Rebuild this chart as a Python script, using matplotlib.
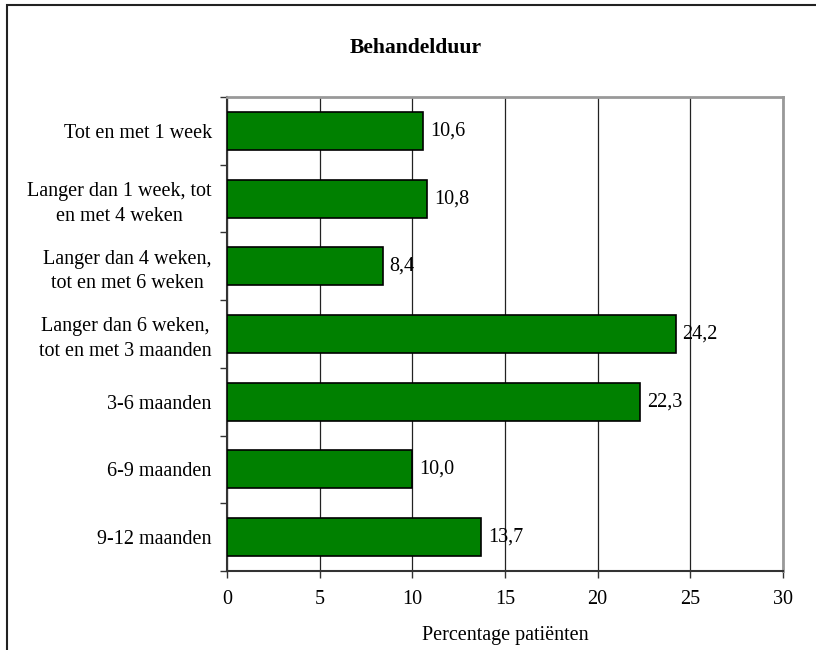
import matplotlib
matplotlib.use('Agg')
import matplotlib.pyplot as plt
from matplotlib.patches import Rectangle

# Behandelduur - percentage patiënten per categorie
categories = [
    'Tot en met 1 week',
    'Langer dan 1 week, tot\nen met 4 weken',
    'Langer dan 4 weken,\ntot en met 6 weken',
    'Langer dan 6 weken,\ntot en met 3 maanden',
    '3-6 maanden',
    '6-9 maanden',
    '9-12 maanden',
]
percentages = [10.6, 10.8, 8.4, 24.2, 22.3, 10.0, 13.7]
x_ticks = [0, 5, 10, 15, 20, 25, 30]

plt.rcParams['font.family'] = ['Liberation Serif', 'DejaVu Serif']
FS = 14.5

W, H = 816, 650
fig = plt.figure(figsize=(W / 100, H / 100), dpi=100)

# kader rond de grafiek
fig.patches.append(Rectangle((7 / W, -0.1), 1.2, 1 - 5 / H + 0.1,
                             transform=fig.transFigure, fill=False,
                             edgecolor='#222222', linewidth=1.5))

ax = fig.add_axes([227 / W, (H - 571) / H, (783 - 227) / W, (571 - 97) / H])

n = len(categories)
pos = list(range(n))
ax.barh(pos, percentages, height=0.56, color='#008000',
        edgecolor='black', linewidth=1.2, zorder=3)

for y, v in zip(pos, percentages):
    ax.annotate(f'{v:.1f}'.replace('.', ','), xy=(v, y), xytext=(5, 0),
                textcoords='offset points', ha='left', va='center',
                fontsize=FS, zorder=4)

ax.set_xlim(0, 30)
ax.set_ylim(n - 0.5, -0.5)
ax.set_xticks(x_ticks)
ax.set_xticklabels([str(t) for t in x_ticks], fontsize=FS)
ax.tick_params(axis='x', direction='out', length=5, width=1, pad=9,
               color='#333333')
ax.xaxis.grid(True, color='#222222', linewidth=0.9, zorder=1)
ax.set_axisbelow(True)

# categorielabels tussen de scheidingsstreepjes
ax.set_yticks([p - 0.5 for p in pos] + [n - 0.5])
ax.set_yticklabels([])
ax.set_yticks(pos, minor=True)
ax.set_yticklabels(categories, minor=True, fontsize=FS,
                   multialignment='center', linespacing=1.4)
ax.tick_params(axis='y', which='major', direction='out', length=5,
               width=1, color='#333333')
ax.tick_params(axis='y', which='minor', length=0, pad=11)

for side in ('top', 'right'):
    ax.spines[side].set_color('#999999')
    ax.spines[side].set_linewidth(2)
for side in ('left', 'bottom'):
    ax.spines[side].set_color('#333333')
    ax.spines[side].set_linewidth(1.5)

ax.set_xlabel('Percentage patiënten', fontsize=FS, labelpad=12)
fig.text(416 / W, 1 - 48 / H, 'Behandelduur', ha='center', va='center',
         fontsize=15.6, fontweight='bold')

fig.savefig('out.png', dpi=100)
